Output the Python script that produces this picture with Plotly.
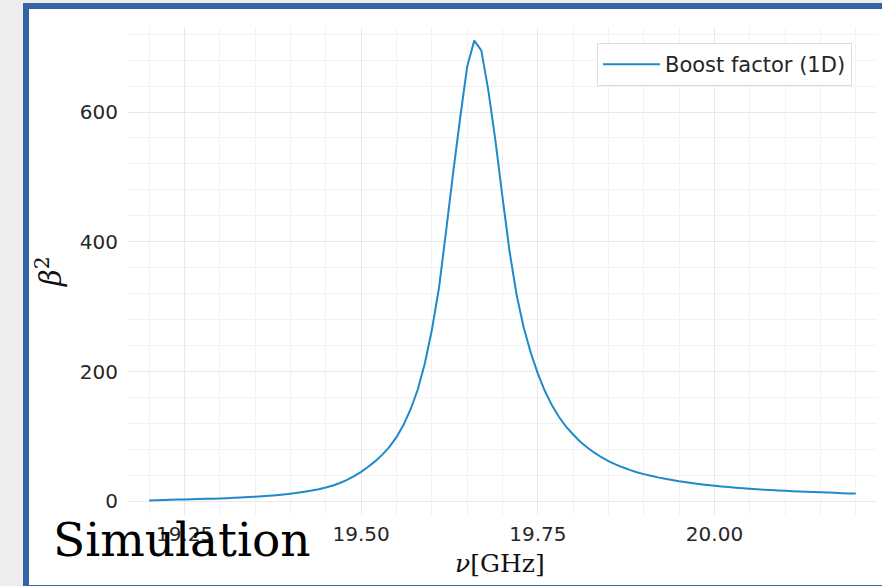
import numpy as np
import plotly.graph_objects as go

# Frequency grid [GHz] and simulated 1D boost factor
freq_ghz = np.round(np.arange(19.20, 20.2001, 0.01), 2)
boost = [
    1.5, 1.8, 2.1, 2.4, 2.7, 3.0, 3.3, 3.6, 3.9, 4.2,
    4.6, 5.0, 5.5, 6.0, 6.6, 7.2, 7.9, 8.7, 9.6, 10.6,
    11.8, 13.2, 14.8, 16.6, 18.8, 21.4, 24.5, 28.3, 33.0, 38.8,
    45.5, 53.3, 62.0, 72.0, 84.0, 99.0, 118.0, 142.0, 172.0, 212.0,
    264.0, 328.0, 415.0, 505.0, 590.0, 670.0, 710.0, 695.0, 633.0, 556.0,
    469.0, 385.0, 318.0, 268.0, 229.0, 197.0, 170.0, 148.0, 130.0, 115.0,
    103.0, 92.0, 83.0, 75.0, 68.0, 62.0, 57.0, 52.5, 48.5, 45.0,
    42.0, 39.5, 37.0, 35.0, 33.0, 31.0, 29.5, 28.0, 26.5, 25.2,
    24.0, 23.0, 22.0, 21.0, 20.2, 19.4, 18.7, 18.0, 17.4, 16.8,
    16.2, 15.7, 15.2, 14.7, 14.3, 13.9, 13.5, 13.1, 12.7, 12.3,
    12.0,
]
series_name = "Boost factor (1D)"
x_ticks = [19.25, 19.50, 19.75, 20.00]
y_ticks = [0, 200, 400, 600]

W, H = 882, 586
L, R, T, B = 128, 5, 27, 71
pw, ph = W - L - R, H - T - B


def px_x(p):
    return (p - L) / pw


def px_y(p):
    return (H - B - p) / ph


BLUE_LINE = "#1f8ac9"
FRAME = "#3465a5"
GRID = "#e9e9e9"
GRID_MINOR = "#f2f2f2"
TXT = "#262626"

fig = go.Figure()
fig.add_trace(go.Scatter(
    x=freq_ghz, y=boost, mode="lines", name=series_name,
    line=dict(color=BLUE_LINE, width=2, simplify=False),
))

fig.update_layout(
    width=W, height=H,
    margin=dict(l=L, r=R, t=T, b=B, pad=0),
    paper_bgcolor="#ededed",
    plot_bgcolor="rgba(0,0,0,0)",
    font=dict(family="DejaVu Sans", size=20, color=TXT),
    showlegend=True,
    legend=dict(
        x=px_x(852), y=px_y(43), xanchor="right", yanchor="top",
        bgcolor="white", bordercolor="#dcdcdc", borderwidth=1,
        font=dict(family="DejaVu Sans", size=21, color=TXT),
        itemwidth=57,
    ),
    xaxis=dict(
        range=[19.17, 20.23],
        tickvals=x_ticks, ticktext=[f"{v:.2f}" for v in x_ticks],
        showgrid=True, gridcolor=GRID, gridwidth=1,
        minor=dict(dtick=0.05, tick0=0, showgrid=True, gridcolor=GRID_MINOR, gridwidth=1),
        zeroline=False, showline=False,
        ticks="outside", ticklen=1, tickcolor="rgba(0,0,0,0)",
        tickfont=dict(size=20, color=TXT),
    ),
    yaxis=dict(
        range=[-21, 731],
        tickvals=y_ticks,
        showgrid=True, gridcolor=GRID, gridwidth=1,
        minor=dict(dtick=40, tick0=0, showgrid=True, gridcolor=GRID_MINOR, gridwidth=1),
        zeroline=False, showline=False,
        ticks="outside", ticklen=5, tickcolor="rgba(0,0,0,0)",
        tickfont=dict(size=20, color=TXT),
    ),
    shapes=[
        # white panel with blue frame behind the plot
        dict(type="rect", xref="paper", yref="paper", layer="below",
             x0=px_x(26), x1=px_x(900), y0=px_y(588), y1=px_y(6),
             fillcolor="white", line=dict(color=FRAME, width=6)),
    ],
    annotations=[
        dict(text="<i>ν</i>[GHz]", xref="paper", yref="paper",
             x=px_x(500), y=px_y(563), xanchor="center", yanchor="middle",
             showarrow=False, font=dict(family="DejaVu Serif", size=25, color="#111111")),
        dict(text="<i>β</i><sup>2</sup>", xref="paper", yref="paper",
             x=px_x(49), y=px_y(272), xanchor="center", yanchor="middle",
             textangle=-90, showarrow=False,
             font=dict(family="DejaVu Serif", size=29, color="#111111")),
        dict(text="Simulation", xref="paper", yref="paper",
             x=px_x(51), y=px_y(539), xanchor="left", yanchor="middle",
             showarrow=False, font=dict(family="DejaVu Serif", size=47, color="black")),
    ],
)

fig.write_html("out.html")
